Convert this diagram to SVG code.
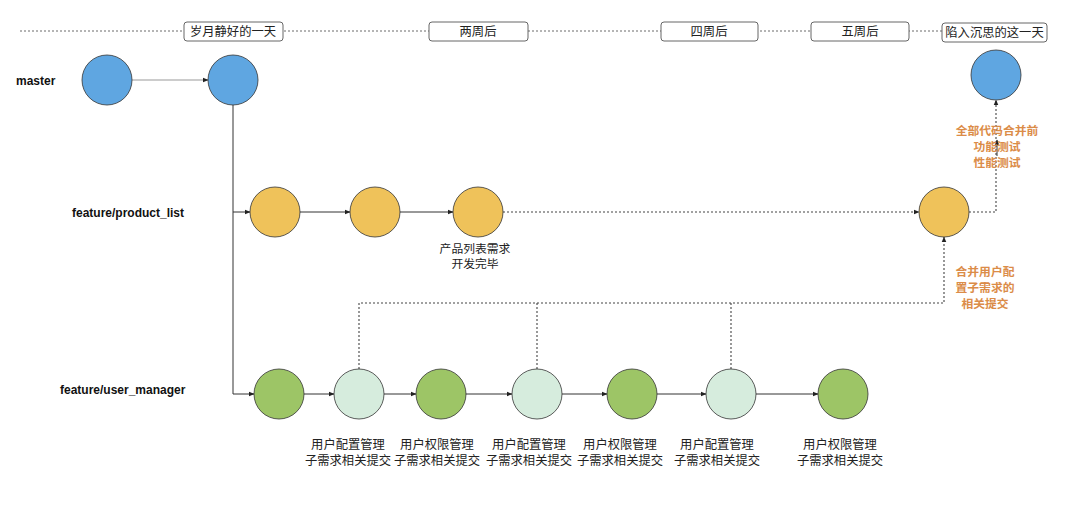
<svg xmlns="http://www.w3.org/2000/svg" width="1080" height="517" viewBox="0 0 1080 517">
<defs>
<marker id="arr" viewBox="0 0 10 10" refX="9" refY="5" markerWidth="6" markerHeight="6" orient="auto" markerUnits="userSpaceOnUse"><path d="M0,1 L10,5 L0,9 z" fill="#222"/></marker>
<style>
.cj{font-family:"Noto Sans CJK SC","Noto Sans",sans-serif;font-size:12.3px;fill:#222;text-anchor:middle}
.cs{font-size:11.8px}
.br{font-family:"Liberation Sans",Arial,sans-serif;font-size:12px;font-weight:bold;fill:#111}
.or{font-family:"Noto Sans CJK SC","Noto Sans",sans-serif;font-size:11.8px;font-weight:bold;fill:#DB8C48;text-anchor:middle}
.box{fill:#fff;stroke:#666;stroke-width:1}
.c{stroke:#333;stroke-width:0.8}
.blue{fill:#5FA6E1}.yel{fill:#EFC25A}.grn{fill:#9DC566}.lg{fill:#D6ECDD}
.sol{fill:none;stroke:#333;stroke-width:1}
.dot{fill:none;stroke:#444;stroke-width:1.1;stroke-dasharray:2,2}
</style>
</defs>
<g id="timeline">
<line x1="20" y1="31" x2="942" y2="31" stroke="#444" stroke-width="0.8" stroke-dasharray="2,2"/>
<rect class="box" x="184" y="22" width="99" height="19" rx="3"/><text class="cj" x="233" y="36">岁月静好的一天</text>
<rect class="box" x="429" y="22" width="99" height="19" rx="3"/><text class="cj" x="478" y="36">两周后</text>
<rect class="box" x="661" y="22" width="97" height="19" rx="3"/><text class="cj" x="709" y="36">四周后</text>
<rect class="box" x="811" y="22" width="98" height="19" rx="3"/><text class="cj" x="860" y="36">五周后</text>
<rect class="box" x="942" y="23" width="105" height="19" rx="3"/><text class="cj" x="994.5" y="37">陷入沉思的这一天</text>
</g>
<g id="branch-labels">
<text class="br" x="16" y="85">master</text>
<text class="br" x="72" y="217">feature/product_list</text>
<text class="br" x="60" y="394">feature/user_manager</text>
</g>
<g id="connectors">
<line x1="132" y1="80" x2="208" y2="80" stroke="#999" stroke-width="1" marker-end="url(#arr)"/>
<polyline class="sol" points="233,105 233,394 254,394" marker-end="url(#arr)"/>
<line class="sol" x1="233" y1="212" x2="250" y2="212" marker-end="url(#arr)"/>
<line class="sol" x1="300" y1="212" x2="350" y2="212" marker-end="url(#arr)"/>
<line class="sol" x1="400" y1="212" x2="453" y2="212" marker-end="url(#arr)"/>
<line class="dot" x1="503" y1="212" x2="919" y2="212" marker-end="url(#arr)"/>
<polyline class="dot" points="969,212 996,212 996,100" marker-end="url(#arr)"/>
<line class="sol" x1="997" y1="156" x2="997" y2="140" marker-end="url(#arr)"/>
<line class="sol" x1="304" y1="394" x2="334" y2="394" marker-end="url(#arr)"/>
<line class="sol" x1="384" y1="394" x2="416" y2="394" marker-end="url(#arr)"/>
<line class="sol" x1="465" y1="394" x2="512" y2="394" marker-end="url(#arr)"/>
<line class="sol" x1="562" y1="394" x2="607" y2="394" marker-end="url(#arr)"/>
<line class="sol" x1="657" y1="394" x2="706" y2="394" marker-end="url(#arr)"/>
<line class="sol" x1="756" y1="394" x2="818" y2="394" marker-end="url(#arr)"/>
<polyline class="dot" points="359,369 359,303 944,303 944,237" marker-end="url(#arr)"/>
<line class="dot" x1="537" y1="369" x2="537" y2="303" stroke="#bbb"/>
<line class="dot" x1="731" y1="369" x2="731" y2="303"/>
</g>
<g id="master-1"><circle class="c blue" cx="107" cy="80" r="25"/></g>
<g id="master-2"><circle class="c blue" cx="233" cy="80" r="25"/></g>
<g id="master-3"><circle class="c blue" cx="996" cy="75" r="25"/></g>
<g id="product-1"><circle class="c yel" cx="275" cy="212" r="25"/></g>
<g id="product-2"><circle class="c yel" cx="375" cy="212" r="25"/></g>
<g id="product-3"><circle class="c yel" cx="478" cy="212" r="25"/>
<text class="cj cs" x="475" y="253">产品列表需求</text><text class="cj cs" x="475" y="268">开发完毕</text></g>
<g id="product-4"><circle class="c yel" cx="944" cy="212" r="25"/></g>
<g id="user-1"><circle class="c grn" cx="279" cy="394" r="25"/></g>
<g id="user-2"><circle class="c lg" cx="359" cy="394" r="25"/>
<text class="cj" x="348" y="449">用户配置管理</text><text class="cj" x="348" y="465">子需求相关提交</text></g>
<g id="user-3"><circle class="c grn" cx="441" cy="394" r="25"/>
<text class="cj" x="437" y="449">用户权限管理</text><text class="cj" x="437" y="465">子需求相关提交</text></g>
<g id="user-4"><circle class="c lg" cx="537" cy="394" r="25"/>
<text class="cj" x="529" y="449">用户配置管理</text><text class="cj" x="529" y="465">子需求相关提交</text></g>
<g id="user-5"><circle class="c grn" cx="632" cy="394" r="25"/>
<text class="cj" x="620" y="449">用户权限管理</text><text class="cj" x="620" y="465">子需求相关提交</text></g>
<g id="user-6"><circle class="c lg" cx="731" cy="394" r="25"/>
<text class="cj" x="717" y="449">用户配置管理</text><text class="cj" x="717" y="465">子需求相关提交</text></g>
<g id="user-7"><circle class="c grn" cx="843" cy="394" r="25"/>
<text class="cj" x="840" y="449">用户权限管理</text><text class="cj" x="840" y="465">子需求相关提交</text></g>
<g id="merge-labels">
<text class="or" x="997" y="135">全部代码合并前</text>
<text class="or" x="997" y="151">功能测试</text>
<text class="or" x="997" y="167">性能测试</text>
<text class="or" x="985" y="276">合并用户配</text>
<text class="or" x="985" y="292">置子需求的</text>
<text class="or" x="985" y="308">相关提交</text>
</g>
</svg>
